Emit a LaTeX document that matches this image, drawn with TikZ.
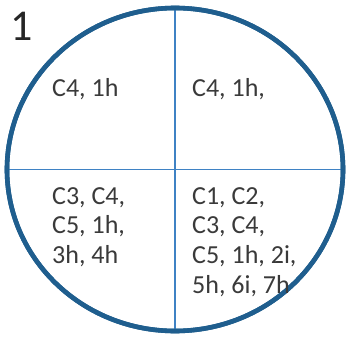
\documentclass[tikz,border=0pt]{standalone}
\usepackage{fontspec}
\setmainfont{Carlito}
\usetikzlibrary{shapes.geometric}
\definecolor{ringblue}{HTML}{1F5E8E}
\definecolor{lineblue}{HTML}{3F82C4}
\definecolor{txt}{HTML}{3A3A3A}
\tikzset{
  ring/.style={ellipse, draw=ringblue, line width=4.6pt, minimum width=336pt, minimum height=323pt, inner sep=0pt},
  divider/.style={draw=lineblue, line width=1.4pt},
  quad/.style={anchor=base west, inner sep=0pt, align=left, text=txt, font=\fontsize{26}{29.7}\selectfont},
  quadblock/.style={quad, anchor=north west},
  numlabel/.style={anchor=base west, inner sep=0pt, text=black!85, font=\fontsize{44}{44}\selectfont}
}
\begin{document}
\begin{tikzpicture}[x=1pt,y=1pt]
\useasboundingbox (0,0) rectangle (348,338);
\node[ring] (circ) at (175,168.5) {};
\draw[divider] (circ.north) -- (circ.south);
\draw[divider] (circ.west) -- (circ.east);
\node[ring] at (175,168.5) {};
\node[numlabel] (one) at (10,297) {1};
\node[quad] (tl) at (52,241) {C4, 1h};
\node[quad] (tr) at (192,241) {C4, 1h,};
\node[quadblock] (bl) at (52,150.8) {C3, C4,\\C5, 1h,\\3h, 4h};
\node[quadblock] (br) at (192,150.8) {C1, C2,\\C3, C4,\\C5, 1h, 2i,\\5h, 6i, 7h};
\end{tikzpicture}
\end{document}
